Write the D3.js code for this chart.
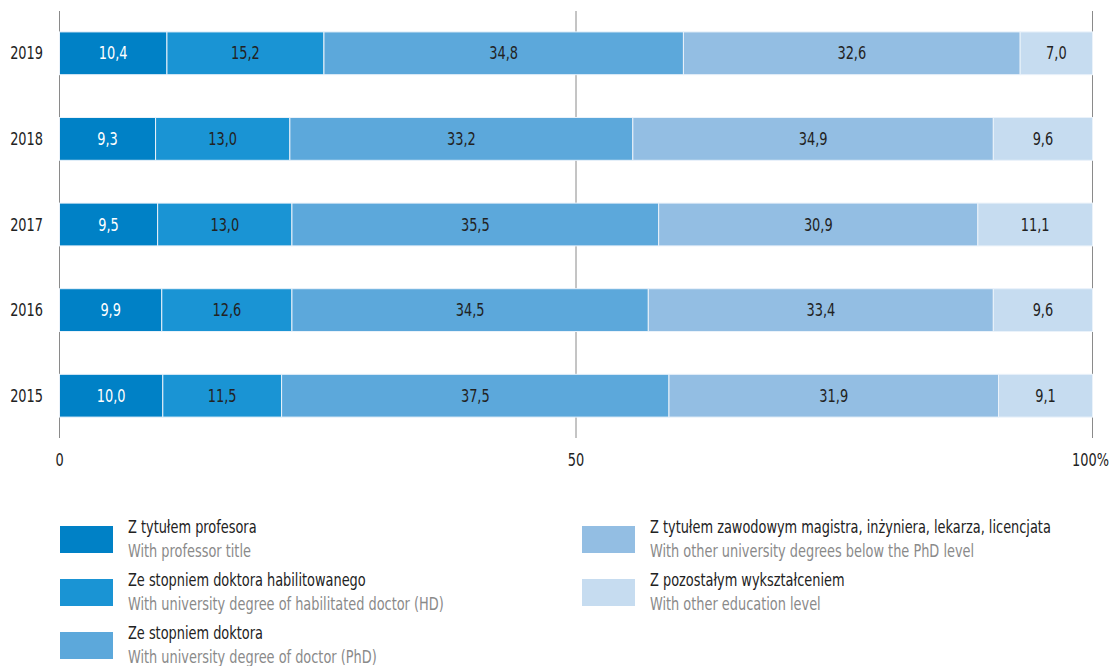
<!DOCTYPE html>
<html><head><meta charset="utf-8">
<script src="https://cdn.jsdelivr.net/npm/d3@7"></script>
<style>
body{margin:0;background:#fff;}
svg text{font-family:"DejaVu Sans Condensed","DejaVu Sans",sans-serif;font-stretch:condensed;}
</style></head><body>
<svg id="c" width="1111" height="666"></svg>
<script>
const years = ["2019","2018","2017","2016","2015"];
const seriesKeys = ["prof","hd","phd","other_univ","other"];
const seriesPL = ["Z tytułem profesora","Ze stopniem doktora habilitowanego","Ze stopniem doktora","Z tytułem zawodowym magistra, inżyniera, lekarza, licencjata","Z pozostałym wykształceniem"];
const seriesEN = ["With professor title","With university degree of habilitated doctor (HD)","With university degree of doctor (PhD)","With other university degrees below the PhD level","With other education level"];
const colors = ["#0081c6","#1a94d4","#5ca8db","#93bee3","#c6dcf0"];
const prof = [10.4, 9.3, 9.5, 9.9, 10.0];
const hd = [15.2, 13.0, 13.0, 12.6, 11.5];
const phd = [34.8, 33.2, 35.5, 34.5, 37.5];
const otherUniv = [32.6, 34.9, 30.9, 33.4, 31.9];
const other = [7.0, 9.6, 11.1, 9.6, 9.1];
const tickValues = [0, 50, 100];
const tickLabels = ["0", "50", "100%"];

const data = years.map((y,i)=>({year:y, prof:prof[i], hd:hd[i], phd:phd[i], other_univ:otherUniv[i], other:other[i]}));
const stack = d3.stack().keys(seriesKeys)(data);

const FS = 17, SX = 0.845;
const tr = (px,py) => `translate(${px},${py}) scale(${SX},1)`;

const svg = d3.select("#c");
const x = d3.scaleLinear().domain([0,100]).range([59.5,1092.5]);
const y = d3.scaleBand().domain(years).range([10.5,438.5]).paddingInner(0.5).paddingOuter(0.25);

// gridlines
svg.append("g").selectAll("line").data(tickValues).join("line")
  .attr("x1",d=>x(d)).attr("x2",d=>x(d)).attr("y1",11).attr("y2",438)
  .attr("stroke","#8a8a8a").attr("stroke-width",1);

// bars
const fmt = v => v.toFixed(1).replace(".", ",");
stack.forEach((s,si)=>{
  const g = svg.append("g");
  g.selectAll("rect").data(s).join("rect")
    .attr("x",d=>x(d[0])).attr("width",d=>x(d[1])-x(d[0]))
    .attr("y",d=>y(d.data.year)).attr("height",y.bandwidth())
    .attr("fill",colors[si]).attr("stroke","#eaf2fa").attr("stroke-width",1);
  g.selectAll("text").data(s).join("text")
    .attr("transform",d=>tr((x(d[0])+x(d[1]))/2, y(d.data.year)+y.bandwidth()/2))
    .attr("dy","0.36em").attr("text-anchor","middle")
    .attr("font-size",FS).attr("fill",si===0?"#ffffff":"#222222")
    .text(d=>fmt(d[1]-d[0]));
});

// y axis labels
svg.append("g").selectAll("text").data(years).join("text")
  .attr("transform",d=>tr(43, y(d)+y.bandwidth()/2)).attr("dy","0.36em")
  .attr("text-anchor","end").attr("font-size",FS).attr("fill","#222").text(d=>d);

// x axis labels
svg.append("g").selectAll("text").data(tickValues).join("text")
  .attr("transform",(d,i)=>tr(x(d)+(i===2?-2:0), 460)).attr("dy","0.36em")
  .attr("text-anchor","middle").attr("font-size",FS).attr("fill","#222")
  .text((d,i)=>tickLabels[i]);

// legend
const legPos = [[60,526],[60,579],[60,632],[582,526],[582,579]];
const leg = svg.append("g");
seriesKeys.forEach((k,i)=>{
  const [lx,ly] = legPos[i];
  leg.append("rect").attr("x",lx).attr("y",ly).attr("width",53).attr("height",27).attr("fill",colors[i]);
  leg.append("text").attr("transform",tr(lx+68, ly+7)).attr("font-size",FS).attr("fill","#222").text(seriesPL[i]);
  leg.append("text").attr("transform",tr(lx+68, ly+31)).attr("font-size",FS).attr("fill","#8a8a8a").text(seriesEN[i]);
});
</script></body></html>
